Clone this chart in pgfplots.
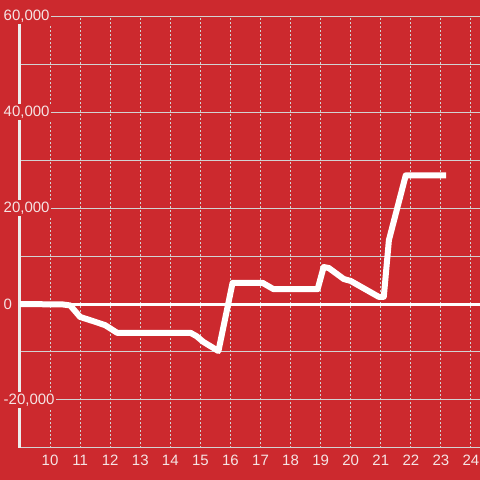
\documentclass[border=0pt]{standalone}
\usepackage{pgfplots}
\pgfplotsset{compat=1.18}
\usepackage{fontspec}
\setmainfont{Liberation Sans}
\definecolor{bg}{HTML}{CC292E}
\definecolor{gridc}{HTML}{D2D2D2}
\definecolor{lab}{HTML}{F5E4E4}
\begin{document}
\begin{tikzpicture}
\begin{axis}[
  set layers,
  at={(0,0)}, anchor=south west,
  scale only axis, width=460pt, height=432pt,
  xmin=9, xmax=24.3, ymin=-30000, ymax=60000,
  axis line style={draw=none},
  scaled y ticks=false,
  /pgf/number format/assume math mode=true,
  xtick={10,...,24},
  ytick={-20000,0,20000,40000,60000},
  minor ytick={-30000,-10000,10000,30000,50000},
  yticklabels={{-20,000},0,{20,000},{40,000},{60,000}},
  major tick length=0pt, minor tick length=0pt,
  xmajorgrids, ymajorgrids, yminorgrids,
  x grid style={draw=gridc, line width=1pt, dash pattern=on 2pt off 2pt},
  y grid style={draw=gridc, line width=1pt, solid},
  minor y grid style={draw=gridc, line width=1pt, solid},
  tick label style={font=\fontsize{15}{17}\selectfont, text=lab},
  yticklabel style={anchor=west, xshift=-18pt, fill=bg, inner sep=1.5pt},
  xticklabel style={anchor=center, yshift=-12.5pt},
  clip=false,
]
\begin{pgfonlayer}{axis background}
\fill[bg] ([xshift=-20pt,yshift=-32pt]rel axis cs:0,0) rectangle ([yshift=16pt]rel axis cs:1,1);
\end{pgfonlayer}
\addplot[on layer=axis grid, white!93!black, line width=3pt] coordinates {(9,-30000) (9,60000)};
\addplot[on layer=axis grid, white, line width=3pt] coordinates {(9,0) (24.3,0)};
\addplot[white, line width=6pt, line join=round] coordinates {
(9.0,0) (10.43,-100) (10.67,-300) (11.0,-2700) (11.4,-3500) (11.83,-4400)
(12.23,-6000) (14.67,-6000) (14.87,-6700) (15.1,-7900) (15.6,-9800)
(16.07,4400) (17.07,4400) (17.43,3100) (18.9,3100) (19.1,7700) (19.27,7500)
(19.77,5200) (20.0,4800) (20.93,1500) (21.1,1500) (21.27,13300) (21.83,26800)
(23.17,26800)
};
\end{axis}
\pgfresetboundingbox
\useasboundingbox (-20pt,-32pt) rectangle (460pt,448pt);
\end{tikzpicture}
\end{document}
